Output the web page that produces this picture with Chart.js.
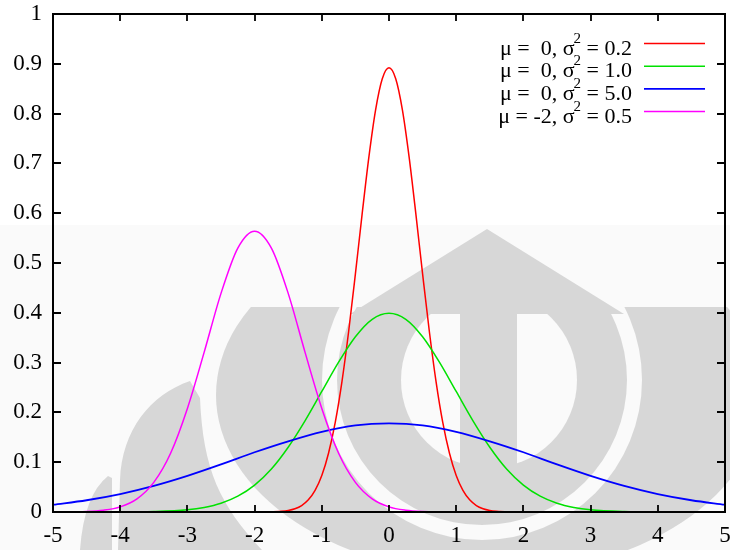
<!DOCTYPE html>
<html>
<head>
<meta charset="utf-8">
<script src="https://cdn.jsdelivr.net/npm/chart.js@4"></script>
<style>
html, body { margin: 0; padding: 0; background: #ffffff; }
#c { display: block; }
</style>
</head>
<body>
<canvas id="c" width="730" height="550"></canvas>
<script>
// ---------- data ----------
const xTickValues = [-5, -4, -3, -2, -1, 0, 1, 2, 3, 4, 5];
const xTickLabels = ['-5', '-4', '-3', '-2', '-1', '0', '1', '2', '3', '4', '5'];
const yTickValues = [0, 0.1, 0.2, 0.3, 0.4, 0.5, 0.6, 0.7, 0.8, 0.9, 1];
const yTickLabels = ['0', '0.1', '0.2', '0.3', '0.4', '0.5', '0.6', '0.7', '0.8', '0.9', '1'];

const legendMu = [' 0', ' 0', ' 0', '-2'];
const legendVar = ['0.2', '1.0', '5.0', '0.5'];
const seriesColors = ['rgb(255,0,0)', 'rgb(0,225,0)', 'rgb(0,0,255)', 'rgb(255,0,255)'];

// mu = 0, sigma^2 = 0.2 (red)
const redX = [-5, -2, -1.8, -1.6, -1.5, -1.4, -1.3, -1.2, -1.1, -1.0, -0.9, -0.8, -0.7, -0.6, -0.5, -0.4, -0.3, -0.2, -0.1, 0,
              0.1, 0.2, 0.3, 0.4, 0.5, 0.6, 0.7, 0.8, 0.9, 1.0, 1.1, 1.2, 1.3, 1.4, 1.5, 1.6, 1.8, 2, 5];
const redY = [0, 0, 0.0003, 0.0015, 0.0032, 0.0066, 0.0130, 0.0244, 0.0433, 0.0732, 0.118, 0.180, 0.262, 0.363, 0.478, 0.598, 0.712, 0.807, 0.870, 0.892,
              0.870, 0.807, 0.712, 0.598, 0.478, 0.363, 0.262, 0.180, 0.118, 0.0732, 0.0433, 0.0244, 0.0130, 0.0066, 0.0032, 0.0015, 0.0003, 0, 0];

// mu = 0, sigma^2 = 1.0 (green)
const greenX = [-5, -4, -3.5, -3, -2.75, -2.5, -2.25, -2, -1.75, -1.5, -1.25, -1, -0.75, -0.5, -0.25, 0,
                0.25, 0.5, 0.75, 1, 1.25, 1.5, 1.75, 2, 2.25, 2.5, 2.75, 3, 3.5, 4, 5];
const greenY = [0, 0.0001, 0.0009, 0.0044, 0.0091, 0.0175, 0.0317, 0.054, 0.0863, 0.130, 0.183, 0.242, 0.301, 0.352, 0.387, 0.399,
                0.387, 0.352, 0.301, 0.242, 0.183, 0.130, 0.0863, 0.054, 0.0317, 0.0175, 0.0091, 0.0044, 0.0009, 0.0001, 0];

// mu = 0, sigma^2 = 5.0 (blue)
const blueX = [-5, -4.5, -4, -3.5, -3, -2.5, -2, -1.5, -1, -0.5, 0, 0.5, 1, 1.5, 2, 2.5, 3, 3.5, 4, 4.5, 5];
const blueY = [0.0146, 0.0236, 0.0360, 0.0524, 0.0725, 0.0955, 0.120, 0.142, 0.161, 0.174, 0.178,
               0.174, 0.161, 0.142, 0.120, 0.0955, 0.0725, 0.0524, 0.0360, 0.0236, 0.0146];

// mu = -2, sigma^2 = 0.5 (magenta)
const magentaX = [-5, -4.5, -4.25, -4, -3.75, -3.5, -3.25, -3, -2.75, -2.5, -2.25, -2, -1.75, -1.5, -1.25, -1, -0.75, -0.5, -0.25, 0, 0.25, 0.5, 1, 5];
const magentaY = [0.0001, 0.0011, 0.0036, 0.0103, 0.0264, 0.0595, 0.118, 0.208, 0.321, 0.439, 0.530, 0.564, 0.530, 0.439, 0.321, 0.208, 0.118, 0.0595, 0.0264, 0.0103, 0.0036, 0.0011, 0.0001, 0];

const seriesX = [redX, greenX, blueX, magentaX];
const seriesY = [redY, greenY, blueY, magentaY];
const seriesWidth = [1.5, 1.5, 1.8, 1.5];

// ---------- helpers ----------
const FONT = '"Liberation Serif", "Times New Roman", serif';

function toPoints(xs, ys) { return xs.map((x, i) => ({ x: x, y: ys[i] })); }

const datasets = seriesX.map((xs, i) => ({
  label: 'mu=' + legendMu[i].trim() + ', var=' + legendVar[i],
  data: toPoints(xs, seriesY[i]),
  borderColor: seriesColors[i],
  backgroundColor: seriesColors[i],
  borderWidth: seriesWidth[i],
  pointRadius: 0,
  fill: false,
  cubicInterpolationMode: 'monotone',
  order: 3 - i
}));

// faint watermark in the background (decoration of the source image)
const watermarkPlugin = {
  id: 'watermark',
  beforeDraw(chart) {
    const ctx = chart.ctx;
    const W = chart.width, H = chart.height;
    ctx.save();
    ctx.fillStyle = '#fafafa';
    ctx.fillRect(0, 225, W, H - 225);

    const off = document.createElement('canvas');
    off.width = W; off.height = H;
    const o = off.getContext('2d');
    o.fillStyle = '#d7d7d7';

    o.save();
    o.beginPath(); o.rect(0, 307, W, H - 307); o.clip();
    o.beginPath(); o.ellipse(489, 395, 273, 180, 0, 0, Math.PI * 2); o.fill();
    o.globalCompositeOperation = 'destination-out';
    o.beginPath();
    o.arc(482, 380, 160, 0, Math.PI * 2);
    o.arc(482, 380, 145, 0, Math.PI * 2, true);
    o.fill();
    o.restore();

    o.save();
    o.beginPath(); o.rect(0, 313, W, H - 313); o.clip();
    o.globalCompositeOperation = 'destination-out';
    o.beginPath(); o.arc(489, 380, 88, 0, Math.PI * 2); o.fill();
    o.restore();
    o.fillRect(460, 313, 57, 160);
    o.beginPath();
    o.moveTo(487, 229); o.lineTo(624, 314); o.lineTo(350, 314); o.closePath(); o.fill();
    o.beginPath();
    o.moveTo(190, 381);
    o.bezierCurveTo(150, 395, 122, 430, 120, 480);
    o.lineTo(118, 550);
    o.lineTo(262, 550);
    o.bezierCurveTo(220, 505, 203, 470, 200, 398);
    o.closePath(); o.fill();
    o.beginPath();
    o.moveTo(108, 476);
    o.quadraticCurveTo(84, 495, 80, 550);
    o.lineTo(112, 550); o.lineTo(112, 478);
    o.closePath(); o.fill();

    ctx.drawImage(off, 0, 0);
    ctx.restore();
  }
};

// frame with inward ticks (drawn on top of the curves) and the key
const framePlugin = {
  id: 'frame',
  afterDatasetsDraw(chart) {
    const ctx = chart.ctx;
    const a = chart.chartArea;
    const xs = chart.scales.x, ys = chart.scales.y;
    ctx.save();
    ctx.strokeStyle = '#000';
    ctx.lineWidth = 2;
    ctx.strokeRect(a.left, a.top, a.right - a.left, a.bottom - a.top);
    ctx.lineWidth = 1.8;
    ctx.beginPath();
    xTickValues.forEach(v => {
      const px = Math.round(xs.getPixelForValue(v));
      ctx.moveTo(px, a.bottom); ctx.lineTo(px, a.bottom - 7);
      ctx.moveTo(px, a.top); ctx.lineTo(px, a.top + 7);
    });
    yTickValues.forEach(v => {
      const py = Math.round(ys.getPixelForValue(v));
      ctx.moveTo(a.left, py); ctx.lineTo(a.left + 8, py);
      ctx.moveTo(a.right, py); ctx.lineTo(a.right - 8, py);
    });
    ctx.stroke();

    const textRight = a.left + 579;
    const lineX0 = a.left + 591, lineX1 = a.left + 652;
    chart.data.datasets.forEach((ds, i) => {
      const ly = a.top + 29.5 + i * 22.7;
      ctx.strokeStyle = ds.borderColor;
      ctx.lineWidth = ds.borderWidth;
      ctx.beginPath(); ctx.moveTo(lineX0, ly); ctx.lineTo(lineX1, ly); ctx.stroke();

      ctx.fillStyle = '#000';
      ctx.textBaseline = 'alphabetic';
      ctx.textAlign = 'right';
      const right = ' = ' + legendVar[i];
      ctx.font = '22px ' + FONT;
      ctx.fillText(right, textRight, ly + 11);
      const wr = ctx.measureText(right).width;
      ctx.font = '15px ' + FONT;
      ctx.fillText('2', textRight - wr, ly - 1);
      const ws = ctx.measureText('2').width;
      ctx.font = '22px ' + FONT;
      ctx.fillText('\u03bc = ' + legendMu[i] + ', \u03c3', textRight - wr - ws + 1, ly + 11);
    });
    ctx.restore();
  }
};

new Chart(document.getElementById('c'), {
  type: 'line',
  data: { datasets: datasets },
  options: {
    responsive: false,
    animation: false,
    events: [],
    layout: { padding: { top: 14, right: 5, left: 0, bottom: 0 } },
    plugins: { legend: { display: false }, tooltip: { enabled: false } },
    scales: {
      x: {
        type: 'linear', min: -5, max: 5,
        afterBuildTicks: s => { s.ticks = xTickValues.map(v => ({ value: v })); },
        afterFit: s => { s.height = 38; s.paddingLeft = 0; s.paddingRight = 0; },
        grid: { display: false, drawTicks: false },
        border: { display: false },
        ticks: {
          color: '#000', padding: 10, maxRotation: 0, autoSkip: false,
          font: { family: FONT, size: 23 },
          callback: (v, i) => xTickLabels[i]
        }
      },
      y: {
        type: 'linear', min: 0, max: 1,
        afterBuildTicks: s => { s.ticks = yTickValues.map(v => ({ value: v })); },
        afterFit: s => { s.width = 53; s.paddingTop = 0; s.paddingBottom = 0; },
        grid: { display: false, drawTicks: false },
        border: { display: false },
        ticks: {
          color: '#000', padding: 11, autoSkip: false,
          font: { family: FONT, size: 23 },
          callback: (v, i) => yTickLabels[i]
        }
      }
    }
  },
  plugins: [watermarkPlugin, framePlugin]
});
</script>
</body>
</html>
